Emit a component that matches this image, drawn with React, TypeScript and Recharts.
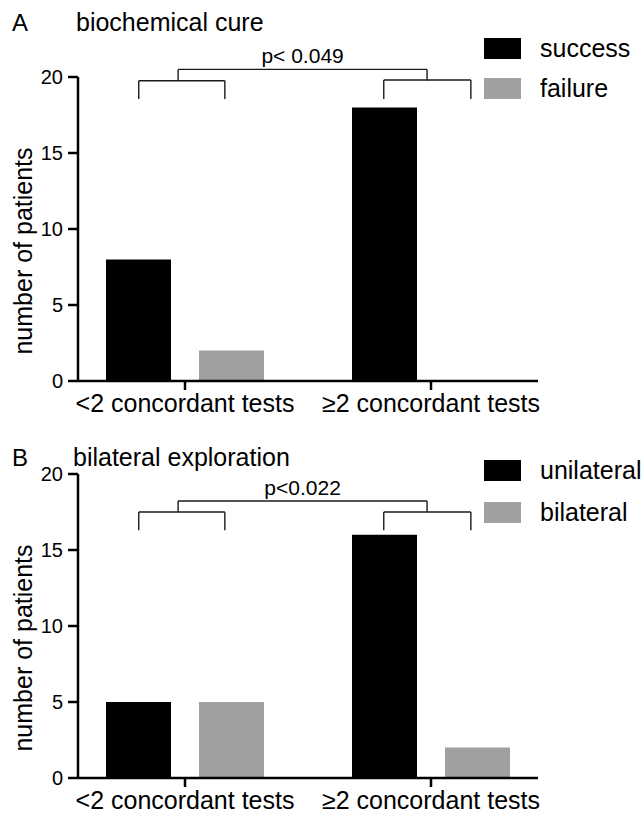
import { Bar, BarChart, Legend, ReferenceLine, XAxis, YAxis } from 'recharts'

const GRUPOS = ['<2 concordant tests', '≥2 concordant tests']
const TICKS_Y = [0, 5, 10, 15, 20]

// A: biochemical cure
const SERIES_A = ['success', 'failure']
const SUCCESS = [8, 18]
const FAILURE = [2, 0]

// B: bilateral exploration
const SERIES_B = ['unilateral', 'bilateral']
const UNILATERAL = [5, 16]
const BILATERAL = [5, 2]

// corchetes de significancia (x en fracción del eje horizontal, y en nº de pacientes)
type Corchete = { desde: number; hasta: number; arriba: number; pie: number; texto?: string }

const CORCHETES_A: Corchete[] = [
  { desde: 0.156, hasta: 0.331, arriba: 19.75, pie: 18.55 },
  { desde: 0.654, hasta: 0.831, arriba: 19.8, pie: 18.55 },
  { desde: 0.236, hasta: 0.742, arriba: 20.5, pie: 19.77, texto: 'p< 0.049' },
]
const CORCHETES_B: Corchete[] = [
  { desde: 0.156, hasta: 0.331, arriba: 17.5, pie: 16.3 },
  { desde: 0.654, hasta: 0.831, arriba: 17.5, pie: 16.3 },
  { desde: 0.236, hasta: 0.742, arriba: 18.22, pie: 17.5, texto: 'p<0.022' },
]

const FUENTE = '"Liberation Sans", Arial, Helvetica, sans-serif'
const NEGRO = '#000000'
const GRIS = '#a0a0a0'
const LINEA_EJE = { stroke: '#000', strokeWidth: 2.5 }
const LINEA_CORCHETE = '#1a1a1a'

interface PanelProps {
  letra: string
  titulo: string
  nombres: string[]
  valores: number[][]
  corchetes: Corchete[]
  top: number
  tituloLeft: number
  tituloTop: number
  leyendaTop: number
  leyendaFila: number
}

function Leyenda({ payload, orden, fila }: { payload?: any[]; orden: string[]; fila: number }) {
  const items = [...(payload ?? [])].sort((a, b) => orden.indexOf(a.value) - orden.indexOf(b.value))
  return (
    <div>
      {items.map((p) => (
        <div key={p.value} style={{ display: 'flex', alignItems: 'center', height: fila }}>
          <span style={{ display: 'inline-block', width: 37, height: 21, background: p.color }} />
          <span style={{ marginLeft: 19, fontSize: 25, color: '#000', lineHeight: 1 }}>{p.value}</span>
        </div>
      ))}
    </div>
  )
}

function Panel({ letra, titulo, nombres, valores, corchetes, top, tituloLeft, tituloTop, leyendaTop, leyendaFila }: PanelProps) {
  const data = GRUPOS.map((g, i) => ({ grupo: g, s1: valores[0][i], s2: valores[1][i] }))

  const segmentos = corchetes.flatMap((c, i) => [
    { key: `${i}-l`, seg: [{ x: c.desde, y: c.arriba }, { x: c.desde, y: c.pie }] },
    { key: `${i}-r`, seg: [{ x: c.hasta, y: c.arriba }, { x: c.hasta, y: c.pie }] },
    { key: `${i}-h`, seg: [{ x: c.desde, y: c.arriba }, { x: c.hasta, y: c.arriba }], texto: c.texto },
  ])

  return (
    <div style={{ position: 'absolute', left: 0, top, width: 643, height: 418 }}>
      <div style={{ position: 'absolute', left: 12, top: tituloTop, fontSize: 24, lineHeight: 1 }}>{letra}</div>
      <div style={{ position: 'absolute', left: tituloLeft, top: tituloTop - 1, fontSize: 25, lineHeight: 1 }}>{titulo}</div>
      <BarChart
        width={643}
        height={418}
        data={data}
        margin={{ top: 77, right: 105, bottom: 0, left: 18 }}
        barSize={65}
        barGap={28}
      >
        <XAxis
          xAxisId="cat"
          dataKey="grupo"
          height={37}
          padding={{ left: -16, right: -16 }}
          axisLine={LINEA_EJE}
          tickLine={LINEA_EJE}
          tickSize={9}
          tickMargin={4}
          tick={{ fill: '#000', fontSize: 25 }}
          interval={0}
        />
        <XAxis
          xAxisId="num"
          type="number"
          domain={[0, 1]}
          padding={{ left: -16, right: -16 }}
          allowDataOverflow
          hide
        />
        <YAxis
          width={60}
          domain={[0, 20]}
          ticks={TICKS_Y}
          axisLine={LINEA_EJE}
          tickLine={LINEA_EJE}
          tickSize={10}
          tickMargin={5}
          tick={{ fill: '#000', fontSize: 20 }}
          label={{
            value: 'number of patients',
            content: (props: any) => {
              const vb = props.viewBox ?? { x: 18, y: 77, height: 304 }
              const cx = vb.x + 14
              const cy = vb.y + vb.height / 2 + 22
              return (
                <text x={cx} y={cy} transform={`rotate(-90, ${cx}, ${cy})`} textAnchor="middle" fontSize={25} fill="#000">
                  number of patients
                </text>
              )
            },
          }}
        />
        <Bar xAxisId="cat" dataKey="s1" name={nombres[0]} fill={NEGRO} isAnimationActive={false} />
        <Bar xAxisId="cat" dataKey="s2" name={nombres[1]} fill={GRIS} isAnimationActive={false} />
        {segmentos.map((s) => (
          <ReferenceLine
            key={s.key}
            xAxisId="num"
            segment={s.seg}
            stroke={LINEA_CORCHETE}
            strokeWidth={1.4}
            ifOverflow="visible"
            label={s.texto ? { value: s.texto, position: 'top', offset: 6, fontSize: 21, fill: '#000' } : undefined}
          />
        ))}
        <Legend
          layout="vertical"
          align="center"
          verticalAlign="middle"
          wrapperStyle={{ left: 484, top: leyendaTop, width: 159 }}
          content={(p: any) => <Leyenda payload={p.payload} orden={nombres} fila={leyendaFila} />}
        />
      </BarChart>
    </div>
  )
}

export default function App() {
  return (
    <div
      style={{
        position: 'absolute',
        left: 0,
        top: 0,
        width: 643,
        height: 815,
        overflow: 'hidden',
        background: '#fff',
        fontFamily: FUENTE,
        color: '#000',
      }}
    >
      <Panel
        letra="A"
        titulo="biochemical cure"
        nombres={SERIES_A}
        valores={[SUCCESS, FAILURE]}
        corchetes={CORCHETES_A}
        top={0}
        tituloLeft={76}
        tituloTop={11}
        leyendaTop={29}
        leyendaFila={39.5}
      />
      <Panel
        letra="B"
        titulo="bilateral exploration"
        nombres={SERIES_B}
        valores={[UNILATERAL, BILATERAL]}
        corchetes={CORCHETES_B}
        top={397}
        tituloLeft={73}
        tituloTop={49}
        leyendaTop={52}
        leyendaFila={42}
      />
    </div>
  )
}
